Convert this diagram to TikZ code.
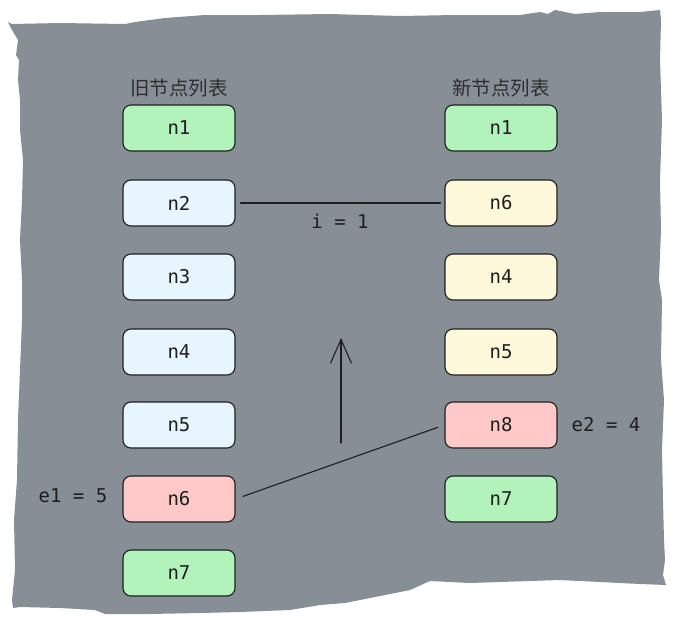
\documentclass[tikz,border=0pt]{standalone}
\usepackage{fontspec}
\setmonofont{DejaVu Sans Mono}
\newfontfamily\cjk{Noto Sans CJK SC}
\usetikzlibrary{arrows.meta}

\definecolor{ink}{HTML}{1E1E1E}
\definecolor{board}{HTML}{868E96}
\definecolor{keep}{HTML}{B2F2BB}
\definecolor{oldc}{HTML}{E7F5FF}
\definecolor{newc}{HTML}{FFF9DB}
\definecolor{diff}{HTML}{FFC9C9}

\tikzset{
  item/.style={draw=ink, line width=1.1pt, rounded corners=8pt,
    minimum width=112pt, minimum height=46pt, inner sep=0pt,
    font=\ttfamily\fontsize{19}{20}\selectfont, text=ink},
  heading/.style={font=\cjk\fontsize{19.5}{22}\selectfont, text=ink!85!board, inner sep=0pt},
  note/.style={font=\ttfamily\fontsize{19}{20}\selectfont, text=ink, inner sep=0pt},
  link/.style={draw=ink, line width=1.1pt, line cap=round},
}

\begin{document}
\begin{tikzpicture}[x=1pt, y=-1pt]
\useasboundingbox (0,0) rectangle (681,629);

% torn paper board
\fill[board] (8,22) -- (12,24) -- (60,23) -- (125,24) -- (135,22) -- (165,18)
  -- (205,15) -- (260,15) -- (330,14) -- (400,16) -- (455,15) -- (520,15)
  -- (540,12) -- (548,14) -- (555,10) -- (575,14) -- (600,12) -- (640,12)
  -- (660,10)
  -- (661,20) -- (660,60) -- (662,120) -- (660,180) -- (661,230) -- (659,280)
  -- (662,300) -- (661,360) -- (664,400) -- (662,450) -- (663,500) -- (664,540)
  -- (665,560) -- (663,575) -- (666,585)
  -- (640,584) -- (600,582) -- (560,580) -- (470,583) -- (430,581) -- (410,590)
  -- (390,594) -- (360,600) -- (345,603) -- (320,605) -- (290,610) -- (240,612)
  -- (200,613) -- (150,614) -- (105,614) -- (95,610) -- (60,608) -- (20,607)
  -- (13,608)
  -- (12,600) -- (15,570) -- (14,520) -- (17,480) -- (18,420) -- (20,370)
  -- (22,320) -- (22,280) -- (20,240) -- (22,200) -- (23,160) -- (20,130)
  -- (20,100) -- (18,80) -- (19,60) -- (16,55) -- (18,40) -- (12,30) -- cycle;

% column headings
\node[heading] (oldtitle) at (179,88) {旧节点列表};
\node[heading] (newtitle) at (501,88) {新节点列表};

% old list
\node[item, fill=keep] (o1) at (179,128) {n1};
\node[item, fill=oldc] (o2) at (179,203) {n2};
\node[item, fill=oldc] (o3) at (179,277) {n3};
\node[item, fill=oldc] (o4) at (179,352) {n4};
\node[item, fill=oldc] (o5) at (179,425) {n5};
\node[item, fill=diff] (o6) at (179,499) {n6};
\node[item, fill=keep] (o7) at (179,573) {n7};

% new list
\node[item, fill=keep] (m1) at (501,128) {n1};
\node[item, fill=newc] (m6) at (501,203) {n6};
\node[item, fill=newc] (m4) at (501,277) {n4};
\node[item, fill=newc] (m5) at (501,352) {n5};
\node[item, fill=diff] (m8) at (501,425) {n8};
\node[item, fill=keep] (m7) at (501,499) {n7};

% annotations
\node[note] (ilabel) at (340,221) {i = 1};
\node[note] (e1label) at (73,496) {e1 = 5};
\node[note] (e2label) at (606,425) {e2 = 4};

% connectors
\draw[link, shorten <=5pt, shorten >=4pt] (o2.east) -- (m6.west);
\draw[link, shorten <=8pt, shorten >=7pt] (o6.east) -- (m8.west);

\coordinate (arrowfoot) at (341,443);
\coordinate (arrowhead) at (341,338);
\draw[link, -{Straight Barb[length=24pt, width=21pt, line width=1.1pt]}] (arrowfoot) -- (arrowhead);
\end{tikzpicture}
\end{document}
